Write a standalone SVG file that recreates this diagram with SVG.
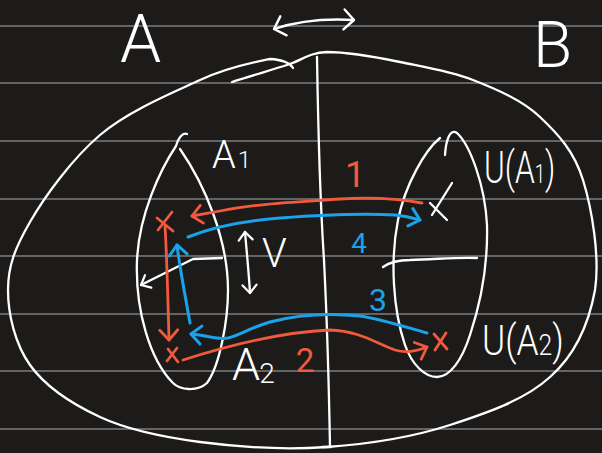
<svg xmlns="http://www.w3.org/2000/svg" width="602" height="453" viewBox="0 0 602 453">
<defs>
<style>
.rule{stroke:#7e7e7e;stroke-width:1.6;fill:none}
.w{stroke:#ffffff;stroke-width:2.3;fill:none;stroke-linecap:round;stroke-linejoin:round}
.r{stroke:#f15a3c;stroke-width:2.8;fill:none;stroke-linecap:round;stroke-linejoin:round}
.b{stroke:#1aa3ea;stroke-width:3;fill:none;stroke-linecap:round;stroke-linejoin:round}
.hw{font-family:Roboto,"DejaVu Sans",sans-serif;font-weight:300;fill:#ffffff}
.num{font-family:Roboto,"DejaVu Sans",sans-serif;font-weight:400;text-anchor:middle}
</style>
<marker id="mR" viewBox="0 0 12 20" refX="11" refY="10" markerWidth="12" markerHeight="20" markerUnits="userSpaceOnUse" orient="auto-start-reverse" overflow="visible">
<path d="M1,1 L11,10 L1,19" fill="none" stroke="#f15a3c" stroke-width="2.8" stroke-linecap="round" stroke-linejoin="round"/>
</marker>
<marker id="mB" viewBox="0 0 12 20" refX="11" refY="10" markerWidth="12" markerHeight="20" markerUnits="userSpaceOnUse" orient="auto-start-reverse" overflow="visible">
<path d="M1,1 L11,10 L1,19" fill="none" stroke="#1aa3ea" stroke-width="3" stroke-linecap="round" stroke-linejoin="round"/>
</marker>
<marker id="mW" viewBox="0 0 10 16" refX="9" refY="8" markerWidth="10" markerHeight="16" markerUnits="userSpaceOnUse" orient="auto-start-reverse" overflow="visible">
<path d="M1,1 L9,8 L1,15" fill="none" stroke="#ffffff" stroke-width="2.2" stroke-linecap="round" stroke-linejoin="round"/>
</marker>
<marker id="mWL" viewBox="0 0 12 22" refX="11" refY="11" markerWidth="12" markerHeight="22" markerUnits="userSpaceOnUse" orient="auto-start-reverse" overflow="visible">
<path d="M1,1 L11,11 L1,21" fill="none" stroke="#ffffff" stroke-width="2.4" stroke-linecap="round" stroke-linejoin="round"/>
</marker>
</defs>
<rect width="602" height="453" fill="#1c1b1a"/>
<g id="ruling">
<line class="rule" x1="0" y1="26" x2="602" y2="26"/>
<line class="rule" x1="0" y1="83" x2="602" y2="83"/>
<line class="rule" x1="0" y1="141" x2="602" y2="141"/>
<line class="rule" x1="0" y1="199" x2="602" y2="199"/>
<line class="rule" x1="0" y1="256" x2="602" y2="256"/>
<line class="rule" x1="0" y1="314" x2="602" y2="314"/>
<line class="rule" x1="0" y1="371" x2="602" y2="371"/>
<line class="rule" x1="0" y1="429" x2="602" y2="429"/>
</g>
<g id="whole-set">
<path class="w" d="M293,68 Q288,60 270,59 C255,62 228,67 200,80 C172,93 128,111 100,135 C72,159 45,196 30,222 C15,248 8,266 8,290 C8,314 15,344 30,365 C45,386 72,404 100,417 C128,430 162,437 200,442 C238,447 285,450 327,447 C369,444 413,437 450,425 C487,413 525,400 550,377 C575,355 589,323 595,290 C600,257 592,209 583,180 C574,151 558,134 540,117 C522,100 496,89 473,80 C450,71 424,67 400,62 C376,57 346,52 327,52 C308,53 303,60 287,65 C271,70 241,79 232,82"/>
<path class="w" d="M317,57 C318,120 320,200 324,260 C327,320 329,390 330,447 M322,447 L331,447"/>
</g>
<g id="label-A"><text class="hw" x="120" y="62" font-size="66">A</text></g>
<g id="label-B"><text class="hw" x="533" y="67" font-size="64">B</text></g>
<g id="swap-arrow"><path class="w" d="M274,29 C295,22 320,18 354,20" marker-start="url(#mWL)" marker-end="url(#mWL)"/></g>
<g id="set-A1A2">
<path class="w" d="M187,134 C183,132 178,138 176,146 C160,170 139,215 137,260 C135,310 150,360 173,383 C180,390 197,392 207,383 C220,365 228,320 228,290 C228,240 205,185 180,149"/>
<path class="w" d="M222,258 L193,259 L141,285" marker-end="url(#mW)"/>
<text class="hw" x="212" y="168" font-size="38">A<tspan font-size="24" dx="2">1</tspan></text>
<text class="hw" x="232" y="380" font-size="45">A<tspan font-size="28" dx="-1" dy="3">2</tspan></text>
</g>
<g id="set-U">
<path class="w" d="M440,138 C425,150 405,185 398,220 C390,260 393,310 405,345 C412,365 425,377 437,377 C450,377 462,360 470,335 C480,305 488,265 487,225 C485,185 470,145 457,133 C450,128 446,140 445,155"/>
<path class="w" d="M383,267 C390,262 400,260 410,260 C440,259 460,257 477,258"/>
<path class="w" d="M452,183 L432,215 M430,203 L447,220" stroke-width="3.4"/>
<text class="hw" font-size="44" transform="translate(484,183) scale(0.72,1)">U(A<tspan font-size="26">1</tspan>)</text>
<text class="hw" font-size="43" transform="translate(482,355) scale(0.82,1)">U(A<tspan font-size="30">2</tspan>)</text>
</g>
<g id="V-label">
<path class="w" d="M245,232 C247,255 249,275 250,293" marker-start="url(#mW)" marker-end="url(#mW)"/>
<text class="hw" x="262" y="267" font-size="40">V</text>
</g>
<g id="connectors">
<path class="r" d="M422,203 C400,199 370,197 340,199 C300,202 260,203 220,211 L192,216" marker-end="url(#mR)"/>
<path class="r" d="M157,218 L173,231 M172,212 L158,230" stroke-width="3.6"/>
<path class="r" d="M165,226 C167,260 168,300 169,340" marker-end="url(#mR)"/>
<path class="r" d="M183,360 C230,345 280,332 330,330 C360,331 375,343 395,350 C405,353 415,352 427,347" marker-end="url(#mR)"/>
<path class="r" d="M168,349 L178,362 M177,348 L167,361" stroke-width="3.2"/>
<path class="r" d="M434,334 L447,349 M446,333 L435,350" stroke-width="3.6"/>
<path class="b" d="M427,333 C405,327 385,320 360,316 C330,313 300,314 270,322 C250,328 240,335 228,338 C218,340 210,336 191,334" marker-end="url(#mB)"/>
<path class="b" d="M190,323 C186,300 180,270 177,245" marker-end="url(#mB)"/>
<path class="b" d="M188,237 C210,228 240,221 280,218 C320,215 360,213 395,215 C405,216 413,218 420,220" marker-end="url(#mB)"/>
</g>
<g id="step-labels">
<text class="num" x="355" y="187" font-size="36" fill="#f15a3c">1</text>
<text class="num" x="305" y="372" font-size="33" fill="#f15a3c">2</text>
<text class="num" x="378" y="311" font-size="32" fill="#1aa3ea">3</text>
<text class="num" x="359" y="253" font-size="28" fill="#1aa3ea">4</text>
</g>
</svg>
